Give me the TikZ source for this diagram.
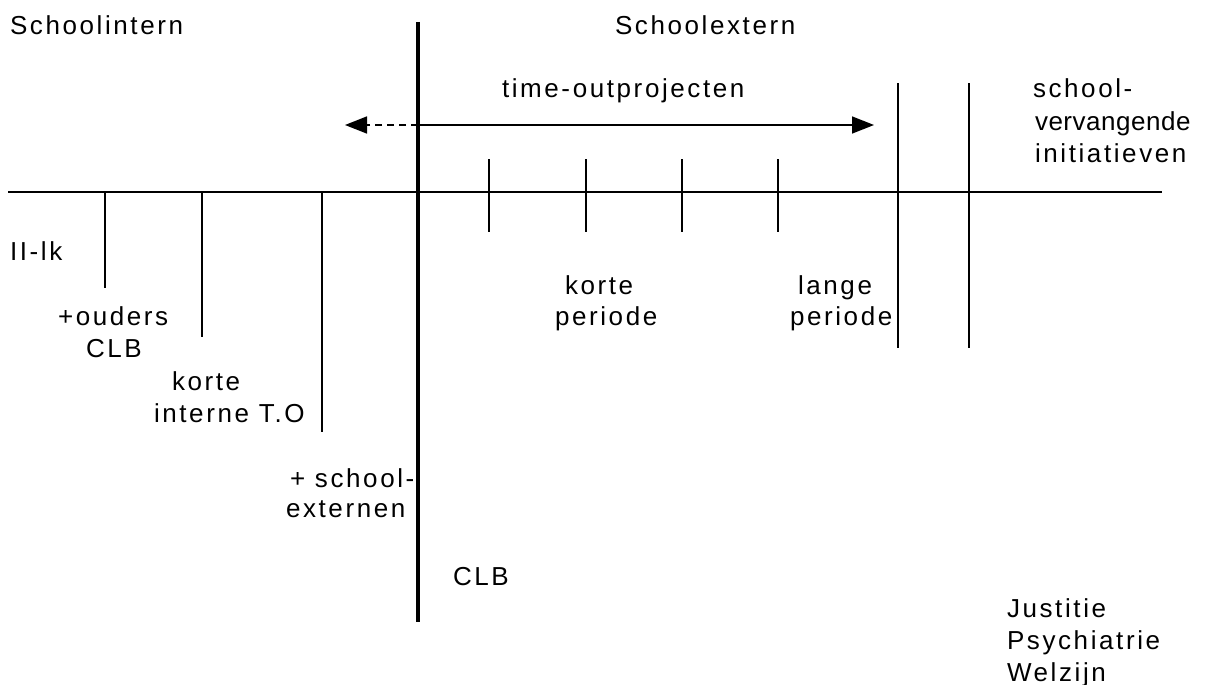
\documentclass[tikz,border=0pt]{standalone}
\usepackage{fontspec}
\setmainfont{Liberation Sans}[LetterSpace=10]
\usetikzlibrary{arrows.meta}
\begin{document}
\begin{tikzpicture}[x=1pt,y=-1pt,
  lbl/.style={anchor=base west,inner sep=0pt,outer sep=0pt,font=\fontsize{26}{32}\selectfont},
  thinline/.style={line width=1.6pt},
  axisline/.style={line width=3.6pt},
  tip/.style={-{Triangle[length=22pt,width=17pt]}}]
\useasboundingbox (0,0) rectangle (1218,685);
% coordinates
\coordinate (hl) at (8,192);
\coordinate (hr) at (1162,192);
\coordinate (vt) at (418,22);
\coordinate (vb) at (418,622);
\coordinate (ar) at (418,125);
\coordinate (arR) at (874,125);
\coordinate (arL) at (345,125);
% left ticks
\coordinate (l1t) at (105,192); \coordinate (l1b) at (105,288);
\coordinate (l2t) at (202,192); \coordinate (l2b) at (202,337);
\coordinate (l3t) at (322,192); \coordinate (l3b) at (322,432);
% right short ticks
\coordinate (r1t) at (489,159); \coordinate (r1b) at (489,232);
\coordinate (r2t) at (586,159); \coordinate (r2b) at (586,232);
\coordinate (r3t) at (682,159); \coordinate (r3b) at (682,232);
\coordinate (r4t) at (778,159); \coordinate (r4b) at (778,232);
% tall lines
\coordinate (t1t) at (898,83); \coordinate (t1b) at (898,348);
\coordinate (t2t) at (969,83); \coordinate (t2b) at (969,348);

\draw[thinline] (hl) -- (hr);
\draw[thinline] (l1t) -- (l1b);
\draw[thinline] (l2t) -- (l2b);
\draw[thinline] (l3t) -- (l3b);
\draw[thinline] (r1t) -- (r1b);
\draw[thinline] (r2t) -- (r2b);
\draw[thinline] (r3t) -- (r3b);
\draw[thinline] (r4t) -- (r4b);
\draw[thinline] (t1t) -- (t1b);
\draw[thinline] (t2t) -- (t2b);
\draw[thinline,tip] (ar) -- (arR);
\draw[thinline,tip,dashed,dash pattern=on 7pt off 5pt] (ar) -- (arL);
\draw[axisline] (vt) -- (vb);

% labels
\node[lbl] (si) at (10,35) {Schoolintern};
\node[lbl] (se) at (615,35) {Schoolextern};
\node[lbl] (to) at (502,97) {time-outprojecten};
\node[lbl] (sv1) at (1033,97) {school-};
\node[lbl] (sv2) at (1035,130) {\addfontfeature{LetterSpace=2}vervangende};
\node[lbl] (sv3) at (1035,162) {initiatieven};
\node[lbl] (ll) at (10,260) {II-lk};
\node[lbl] (ou) at (58,325) {+ouders};
\node[lbl] (clb1) at (86,357) {CLB};
\node[lbl] (ko1) at (172,390) {korte};
\node[lbl] (it) at (154,422) {interne T.O};
\node[lbl] (sc) at (290,487) {+ school-};
\node[lbl] (ex) at (286,517) {externen};
\node[lbl] (clb2) at (453,585) {CLB};
\node[lbl] (ko2) at (565,294) {korte};
\node[lbl] (pe1) at (555,325) {periode};
\node[lbl] (la) at (798,294) {lange};
\node[lbl] (pe2) at (790,325) {periode};
\node[lbl] (ju) at (1007,617) {Justitie};
\node[lbl] (ps) at (1007,649) {Psychiatrie};
\node[lbl] (we) at (1007,681) {Welzijn};
\end{tikzpicture}
\end{document}
